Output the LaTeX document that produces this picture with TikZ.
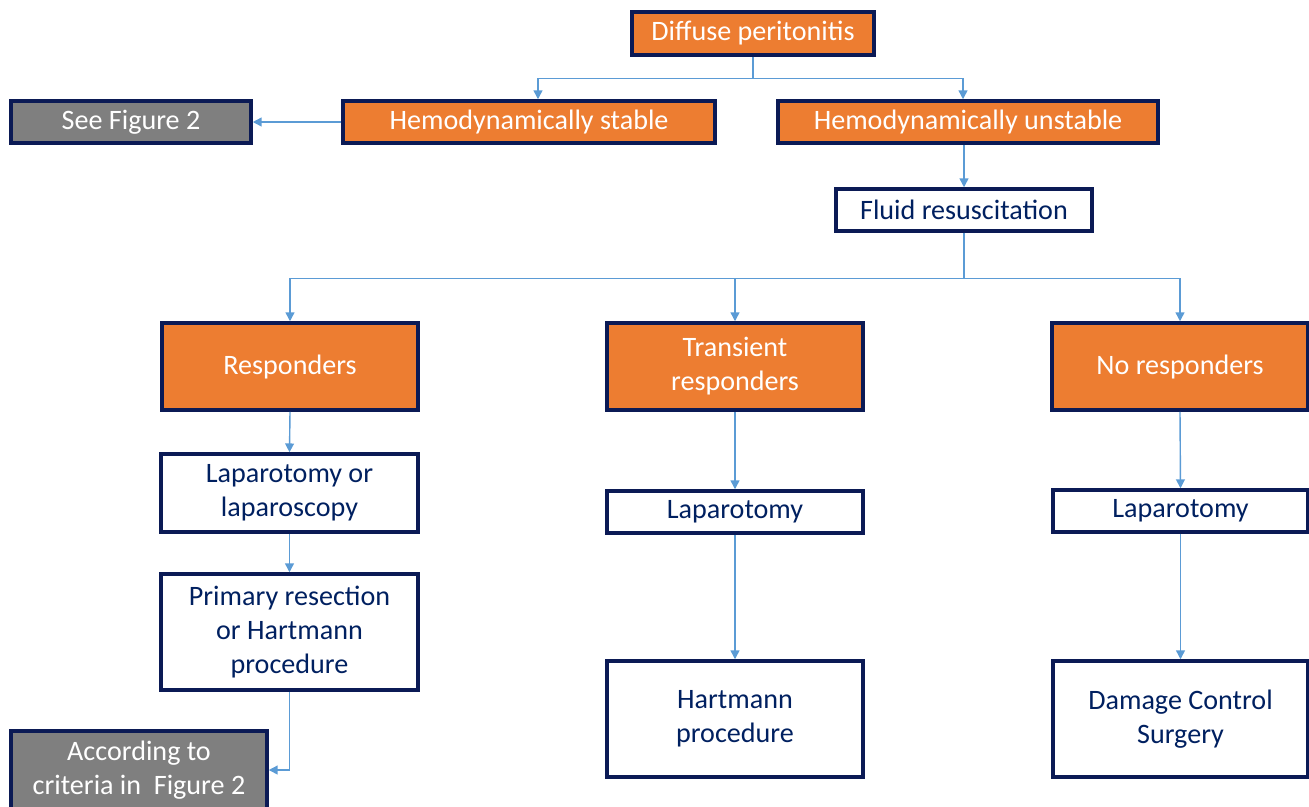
\documentclass[tikz,border=0pt]{standalone}
\usepackage{fontspec}
\setmainfont{Carlito}
\usetikzlibrary{arrows.meta}
\definecolor{orangebox}{HTML}{ED7D31}
\definecolor{navyline}{HTML}{0B1A55}
\definecolor{navytext}{HTML}{002060}
\definecolor{greybox}{HTML}{7F7F7F}
\definecolor{bluearrow}{HTML}{5B9BD5}

\begin{document}
\begin{tikzpicture}[x=0.02cm,y=-0.02cm]
        \useasboundingbox (0,0) rectangle (1309,806);
        \clip (0,0) rectangle (1309,806);

        \begin{scope}[every node/.style={fill=orangebox,draw=navyline,line width=2pt,text=white,
                      font=\fontsize{16}{19.3}\selectfont,align=center,inner sep=0pt}]
            \node (D) [minimum width=242*0.02cm,minimum height=43*0.02cm] at (753,33.5) {Diffuse peritonitis};
            \node (S) [minimum width=372*0.02cm,minimum height=42*0.02cm] at (529,122) {Hemodynamically stable};
            \node (U) [minimum width=380*0.02cm,minimum height=42*0.02cm] at (968,122) {Hemodynamically unstable};
            \node (R) [minimum width=256*0.02cm,minimum height=87*0.02cm] at (290,366.5) {Responders};
            \node (T) [minimum width=256*0.02cm,minimum height=87*0.02cm] at (735,366.5) {Transient\\responders};
            \node (N) [minimum width=256*0.02cm,minimum height=87*0.02cm] at (1180,366.5) {No responders};
        \end{scope}

        \begin{scope}[every node/.style={fill=greybox,draw=navyline,line width=2pt,text=white,
                      font=\fontsize{16}{19.3}\selectfont,align=center,inner sep=0pt}]
            \node (G) [minimum width=240*0.02cm,minimum height=42*0.02cm] at (131,122) {See Figure 2};
            \node (C) [minimum width=256*0.02cm,minimum height=78*0.02cm] at (139,770) {According to\\criteria in~~Figure 2};
        \end{scope}

        \begin{scope}[every node/.style={fill=white,draw=navyline,line width=2pt,text=navytext,
                      font=\fontsize{16}{19.3}\selectfont,align=center,inner sep=0pt}]
            \node (F) [minimum width=256*0.02cm,minimum height=42*0.02cm] at (964,210) {Fluid resuscitation};
            \node (L1) [minimum width=257*0.02cm,minimum height=78*0.02cm] at (289.5,493) {Laparotomy or\\laparoscopy};
            \node (L2) [minimum width=256*0.02cm,minimum height=42*0.02cm] at (735,512) {Laparotomy};
            \node (L3) [minimum width=255*0.02cm,minimum height=42*0.02cm] at (1180.5,511) {Laparotomy};
            \node (P) [minimum width=257*0.02cm,minimum height=116*0.02cm] at (289.5,632) {Primary resection\\or Hartmann\\procedure};
            \node (H) [minimum width=256*0.02cm,minimum height=116*0.02cm] at (735,719) {Hartmann\\procedure};
            \node (K) [minimum width=255*0.02cm,minimum height=116*0.02cm] at (1180.5,719) {Damage Control\\Surgery};
        \end{scope}

        \begin{scope}[>={Triangle[width=5pt,length=5pt]},
                      every path/.style={draw=bluearrow,line width=0.8pt}]
            \path [->] (D.south) -- ++(0,22) -| ([xshift=9*0.02cm]S.north);
            \path [->] (D.south) -- ++(0,22) -| ([xshift=-5*0.02cm]U.north);
            \path [->] (S.west) -- (G.east);
            \path [->] (F.north |- U.south) -- (F.north);
            \path [->] (F.south) -- ++(0,46) -| (R.north);
            \path [->] (F.south) -- ++(0,46) -| (T.north);
            \path [->] (F.south) -- ++(0,46) -| (N.north);
            \path [->] (R.south) -- (L1.north);
            \path [->] (L1.south) -- (P.north);
            \path [->] (P.south) |- (C.east);
            \path [->] (T.south) -- (L2.north);
            \path [->] (L2.south) -- (H.north);
            \path [->] (N.south) -- (L3.north);
            \path [->] (L3.south) -- (K.north);
        \end{scope}
    \end{tikzpicture}
\end{document}
